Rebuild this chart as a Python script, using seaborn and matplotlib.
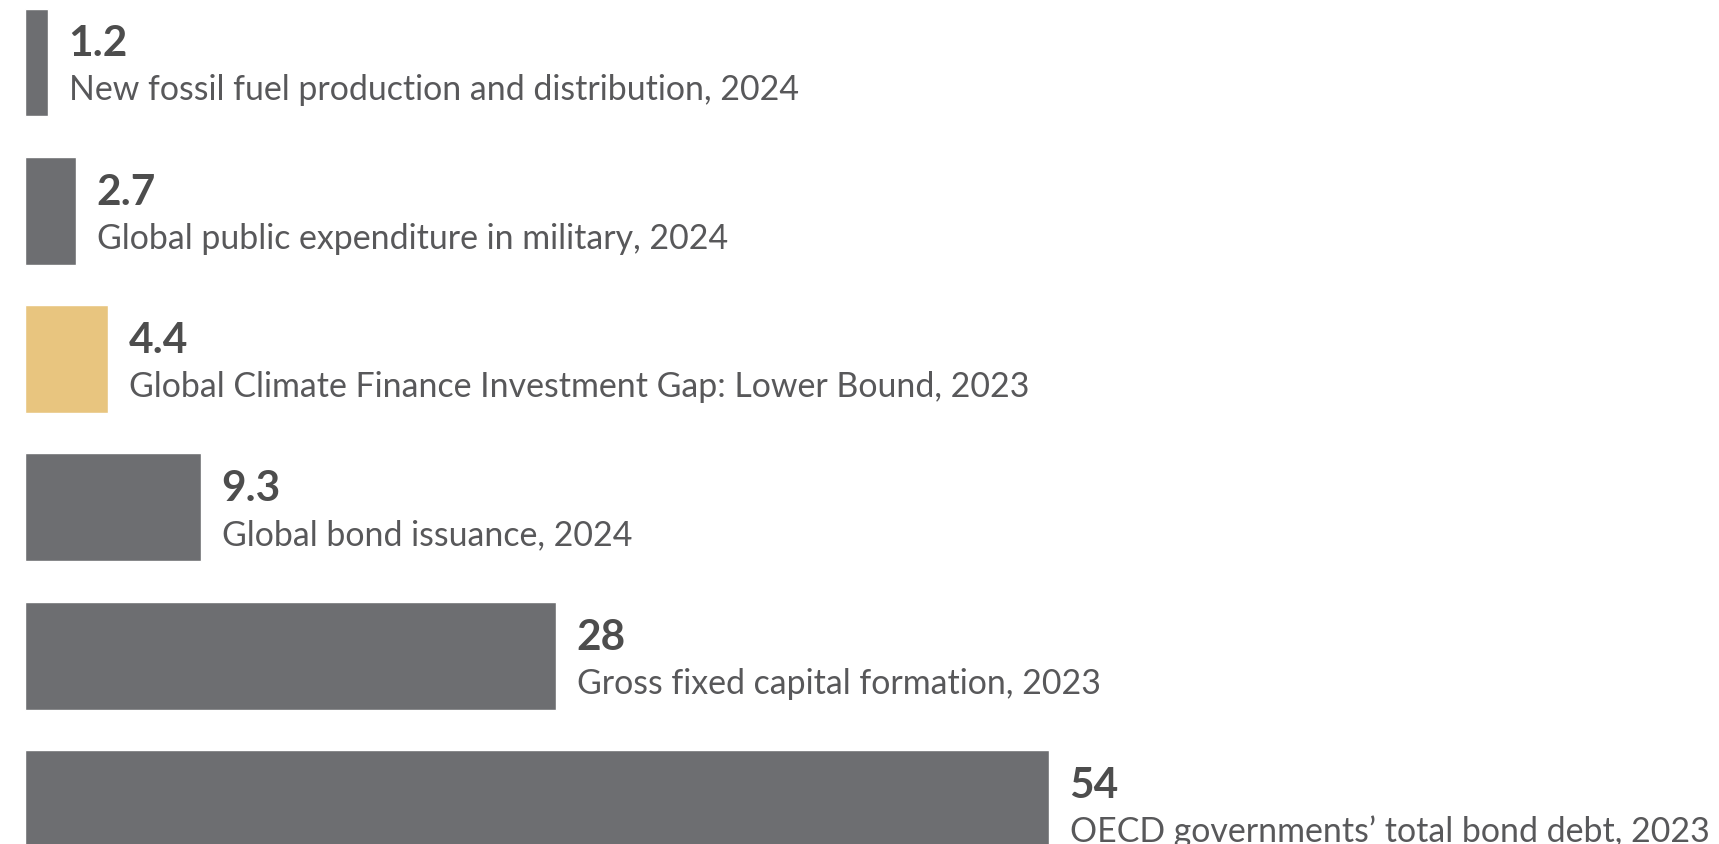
import matplotlib
matplotlib.use("Agg")
import matplotlib.pyplot as plt
import seaborn as sns

# data (values in trillions)
labels = [
    "New fossil fuel production and distribution, 2024",
    "Global public expenditure in military, 2024",
    "Global Climate Finance Investment Gap: Lower Bound, 2023",
    "Global bond issuance, 2024",
    "Gross fixed capital formation, 2023",
    "OECD governments\u2019 total bond debt, 2023",
]
values = [1.2, 2.7, 4.4, 9.3, 28, 54]
value_text = ["1.2", "2.7", "4.4", "9.3", "28", "54"]
bar_colors = ["#6d6e71", "#6d6e71", "#e8c57f", "#6d6e71", "#6d6e71", "#6d6e71"]

sns.set_style("white")
plt.rcParams["font.family"] = ["Lato", "DejaVu Sans"]

fig = plt.figure(figsize=(17.19, 8.45), dpi=100)
ax = fig.add_axes([0, 0, 1, 1])

sns.barplot(x=values, y=labels, hue=labels, palette=bar_colors, legend=False,
            orient="h", width=0.727, saturation=1, ax=ax)

# px scale: ~18.97 px per unit, bars start at x=25px; rows 148.3px apart
ax.set_xlim(-25 / 18.97, (1719 - 25) / 18.97)
ax.set_ylim((845 - 63.5) / 148.3, -63.5 / 148.3)
ax.axis("off")

for i, (v, vt, lab) in enumerate(zip(values, value_text, labels)):
    ax.annotate(vt, (v, i), xytext=(20, 7), textcoords="offset pixels",
                fontsize=30.5, fontweight="bold", color="#4d4d4d",
                ha="left", va="baseline")
    ax.annotate(lab, (v, i), xytext=(21, -37), textcoords="offset pixels",
                fontsize=24.4, color="#58585a", ha="left", va="baseline")

fig.savefig("out.png", dpi=100)
